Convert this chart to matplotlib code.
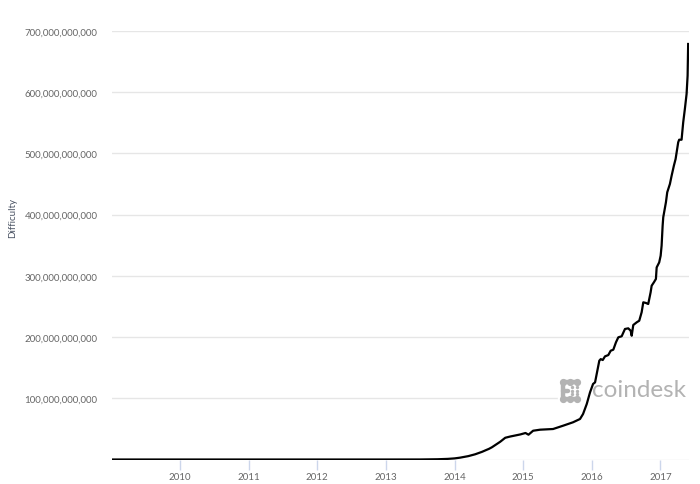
import matplotlib
matplotlib.use("Agg")
import matplotlib.pyplot as plt
from matplotlib.ticker import FuncFormatter
import numpy as np

# fecha en años decimales, dificultad en miles de millones
years = [2009.01, 2010.5, 2011.5, 2012.5, 2013.0, 2013.5, 2013.75, 2013.9,
         2014.0, 2014.08, 2014.2, 2014.3, 2014.4, 2014.472, 2014.5, 2014.545,
         2014.666, 2014.739, 2014.81, 2014.961, 2015.034, 2015.078, 2015.145,
         2015.247, 2015.436, 2015.582, 2015.727, 2015.829, 2015.873, 2015.927,
         2015.975, 2016.019, 2016.048, 2016.110, 2016.131, 2016.160, 2016.193,
         2016.241, 2016.276, 2016.314, 2016.353, 2016.387, 2016.436, 2016.484,
         2016.532, 2016.567, 2016.582, 2016.605, 2016.655, 2016.692, 2016.727,
         2016.751, 2016.790, 2016.823, 2016.858, 2016.873, 2016.906, 2016.935,
         2016.946, 2016.983, 2017.004, 2017.018, 2017.033, 2017.042, 2017.081,
         2017.100, 2017.139, 2017.164, 2017.197, 2017.222, 2017.260, 2017.274,
         2017.309, 2017.333, 2017.357, 2017.382, 2017.397, 2017.405]
difficulty_bn = [0, 0, 0, 0, 0, 0.05, 0.4, 1.0,
                 1.8, 3.0, 5.5, 8.5, 12.5, 16.0, 17.3, 20.0,
                 29.0, 35.5, 37.5, 41.0, 43.3, 40.5, 47.0,
                 48.7, 49.8, 55.2, 60.8, 66.2, 74.3, 90.7,
                 109.8, 123.4, 126.0, 161.4, 164.0, 162.5, 168.5,
                 170.6, 177.7, 179.4, 191.5, 199.6, 201.3, 213.2,
                 214.3, 210.4, 202.2, 219.7, 224.1, 226.7, 240.5,
                 256.8, 255.7, 254.0, 273.2, 283.9, 289.5, 294.9,
                 313.8, 322.0, 332.9, 349.3, 382.0, 395.7, 420.2,
                 436.5, 450.1, 463.6, 480.0, 490.9, 518.2, 522.4,
                 522.4, 550.9, 572.6, 597.1, 627.0, 678.8]

year_ticks = [2010, 2011, 2012, 2013, 2014, 2015, 2016, 2017]
y_ticks = [0, 100e9, 200e9, 300e9, 400e9, 500e9, 600e9, 700e9]

plt.rcParams['font.family'] = ['Lato', 'DejaVu Sans']

W, H = 700, 485
fig = plt.figure(figsize=(7, 4.85), dpi=100)
ax = fig.add_axes([111.5 / W, (H - 460.5) / H, (688.5 - 111.5) / W, (460.5 - 32) / H])

vals = np.array(difficulty_bn) * 1e9
ax.plot(years, vals, color='black', lw=1.6, zorder=5, solid_joinstyle='round')

ax.set_xlim(2009.0, 2017.41)
ax.set_ylim(0, 700e9)

ax.set_yticks(y_ticks)
ax.yaxis.set_major_formatter(FuncFormatter(lambda v, p: '' if v == 0 else '{:,}'.format(int(round(v)))))
ax.tick_params(axis='y', length=0, pad=10, labelsize=7, labelcolor='#666666')

ax.set_xticks(year_ticks)
ax.set_xticklabels([str(y) for y in year_ticks])
ax.tick_params(axis='x', length=7, width=1, color='#ccd6eb', pad=2,
               labelsize=7, labelcolor='#666666')

ax.grid(axis='y', color='#e6e6e6', lw=1)
ax.set_axisbelow(True)
for s in ax.spines.values():
    s.set_visible(False)

fig.text(13 / W, 1 - 218 / H, 'Difficulty', rotation=90, ha='center', va='center',
         fontsize=7, color='#4a5363')

# marca de agua coindesk (dentro del eje, debajo de la linea)
def fx(px):
    return px / W

def fy(py):
    return 1 - py / H

tf = fig.transFigure
ax.add_patch(plt.Rectangle((fx(558), fy(410)), 132 / W, 34 / H, transform=tf,
                           color='white', zorder=2, clip_on=False))
gris = '#b3b3b3'
for xs, ys in [([563, 577], [383, 383]), ([563, 563], [383, 400]),
               ([563, 577], [400, 400]), ([563, 568], [391.5, 391.5])]:
    ax.add_line(plt.Line2D([fx(x) for x in xs], [fy(y) for y in ys], color=gris,
                           lw=3.2, solid_capstyle='round', zorder=3, transform=tf))
for x in [563, 570, 577]:
    for y in [383, 400]:
        ax.add_line(plt.Line2D([fx(x)], [fy(y)], marker='o', ms=4.2, color=gris,
                               zorder=3, transform=tf))
for x in [572, 577]:
    for y in [388, 391.5, 395]:
        ax.add_line(plt.Line2D([fx(x)], [fy(y)], marker='o', ms=1.4, color=gris,
                               zorder=3, transform=tf))
ax.text(fx(592), fy(397), 'coindesk', fontsize=17.5, color=gris, ha='left',
        va='baseline', zorder=3, transform=tf)

fig.savefig('out.png', dpi=100)
